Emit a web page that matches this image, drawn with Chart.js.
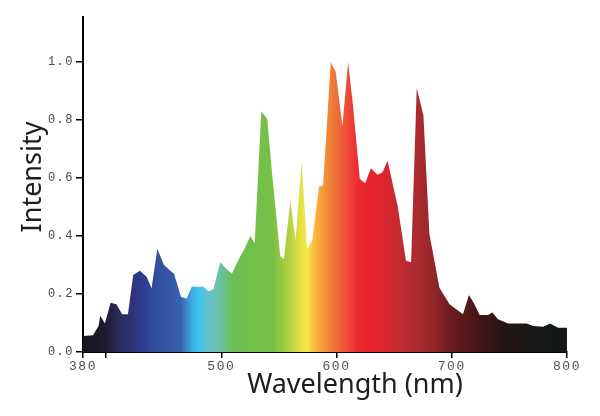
<!DOCTYPE html>
<html>
<head>
<meta charset="UTF-8">
<title>Spectrum</title>
<style>
  html, body { margin: 0; padding: 0; background: #fff; }
  #wrap { width: 600px; height: 416px; }
</style>
<script src="https://cdn.jsdelivr.net/npm/chart.js"></script>
</head>
<body>
<div id="wrap"><canvas id="spectrum"></canvas></div>
<script>
// values
const wavelengths = [380, 388.7, 393.5, 395, 399, 404, 409, 414, 419, 423.6, 429.4, 435.2, 439.5, 444.5,
  450.3, 454.1, 459, 465.1, 470, 474.4, 484.6, 488.9, 493.3, 499.1, 503.5, 509.2, 512.7, 516.5, 519.4,
  525.3, 529, 534.7, 539.9, 544.1, 551.2, 554.3, 559.9, 564.5, 569.7, 574.6, 578.9, 584.8, 588.3,
  595, 599.3, 605.1, 610, 613.8, 620.2, 624.9, 629.8, 635.6, 639.9, 644.3, 653, 660.3, 664.7,
  669.6, 675.4, 680.6, 689.3, 698.1, 709.7, 714.9, 719, 724.2, 731.4, 735.3, 740.1, 748.9,
  764.9, 770.6, 779.4, 785.2, 792.4, 800];
const intensity = [0.055, 0.058, 0.09, 0.125, 0.098, 0.17, 0.165, 0.13, 0.13, 0.266, 0.28, 0.26, 0.22, 0.355,
  0.30, 0.286, 0.27, 0.19, 0.185, 0.225, 0.225, 0.21, 0.217, 0.31, 0.29, 0.27, 0.30, 0.33, 0.35,
  0.40, 0.375, 0.83, 0.805, 0.615, 0.33, 0.32, 0.52, 0.385, 0.657, 0.355, 0.385, 0.57, 0.575,
  1.0, 0.967, 0.78, 1.0, 0.87, 0.597, 0.582, 0.634, 0.612, 0.62, 0.66, 0.505, 0.315, 0.31,
  0.91, 0.817, 0.407, 0.222, 0.165, 0.13, 0.197, 0.17, 0.128, 0.128, 0.136, 0.113, 0.098,
  0.098, 0.09, 0.087, 0.098, 0.084, 0.084];
const xTicks = [380, 400, 500, 600, 700, 800];
const yTicks = [0, 0.2, 0.4, 0.6, 0.8, 1.0];
const xTitle = 'Wavelength (nm)';
const yTitle = 'Intensity';

// spectral colours along the wavelength axis
const spectrumStops = [
  [380, '#17151f'], [398, '#1c1a2c'], [410, '#2a2a58'], [430, '#2f3a8c'], [445, '#32509e'],
  [465, '#3a62ac'], [474, '#3aa8e0'], [480, '#40c4ee'], [490, '#68c2cc'], [502, '#6cc090'],
  [510, '#6cbf52'], [545, '#78c044'], [556, '#a6cc40'], [566, '#d6dc44'], [574, '#f6e84a'],
  [583, '#f8b03c'], [592, '#f08a38'], [606, '#ee5a3a'], [618, '#ec2a34'], [635, '#e8242e'],
  [655, '#c42c30'], [680, '#9a282c'], [700, '#6a1c20'], [725, '#421614'], [745, '#241414'],
  [770, '#181818'], [800, '#131818']
];

function spectrumFill(ctx) {
  const chart = ctx.chart;
  const x = chart.scales.x;
  if (!chart.chartArea || !x) return '#e8242e';
  const x0 = x.getPixelForValue(380);
  const x1 = x.getPixelForValue(800);
  const g = chart.ctx.createLinearGradient(x0, 0, x1, 0);
  spectrumStops.forEach(([nm, c]) => g.addColorStop((nm - 380) / 420, c));
  return g;
}

// spaced-out tick labels, then the two axis titles
const axisText = {
  id: 'axisText',
  beforeDraw(chart) { chart.ctx.letterSpacing = '1.5px'; },
  beforeDatasetsDraw(chart) { chart.ctx.letterSpacing = '0px'; },
  afterDraw(chart) {
    const { ctx, chartArea } = chart;
    ctx.save();
    ctx.letterSpacing = '0px';
    ctx.fillStyle = '#1e1e1e';
    ctx.font = "27px 'Noto Sans', sans-serif";
    ctx.textAlign = 'center';
    ctx.textBaseline = 'middle';
    ctx.fillText(xTitle, chartArea.left + 272, chartArea.bottom + 33);
    ctx.translate(33, chartArea.top + 160);
    ctx.rotate(-Math.PI / 2);
    ctx.fillText(yTitle, 0, 0);
    ctx.restore();
  }
};

const monoFont = { family: "'Liberation Mono', 'DejaVu Sans Mono', monospace", size: 12 };

new Chart(document.getElementById('spectrum'), {
  type: 'line',
  data: {
    datasets: [{
      data: wavelengths.map((w, i) => ({ x: w, y: intensity[i] })),
      fill: 'origin',
      backgroundColor: spectrumFill,
      borderWidth: 0,
      pointRadius: 0,
      tension: 0
    }]
  },
  options: {
    responsive: true,
    maintainAspectRatio: false,
    animation: false,
    layout: { padding: { top: 17, right: 33, bottom: 0, left: 0 } },
    plugins: { legend: { display: false }, tooltip: { enabled: false } },
    scales: {
      x: {
        type: 'linear',
        min: 380,
        max: 800,
        afterBuildTicks: s => { s.ticks = xTicks.map(v => ({ value: v })); },
        afterFit: s => { s.height = 64; },
        ticks: {
          callback: v => (v === 400 ? '' : String(v)),
          color: '#555050',
          font: { family: monoFont.family, size: 13 },
          padding: 1,
          maxRotation: 0,
          autoSkip: false
        },
        grid: { drawOnChartArea: false, drawTicks: true, tickLength: 6, color: '#000', lineWidth: 1.5 },
        border: { display: true, color: '#000', width: 2 }
      },
      y: {
        min: 0,
        max: 1.156,
        afterBuildTicks: s => { s.ticks = yTicks.map(v => ({ value: v })); },
        afterFit: s => { s.width = 83; },
        ticks: {
          callback: v => v.toFixed(1),
          color: '#4d4545',
          font: monoFont,
          padding: 2
        },
        grid: { drawOnChartArea: false, drawTicks: true, tickLength: 7, color: '#000', lineWidth: 1.5 },
        border: { display: true, color: '#000', width: 2 }
      }
    }
  },
  plugins: [axisText]
});
</script>
</body>
</html>
